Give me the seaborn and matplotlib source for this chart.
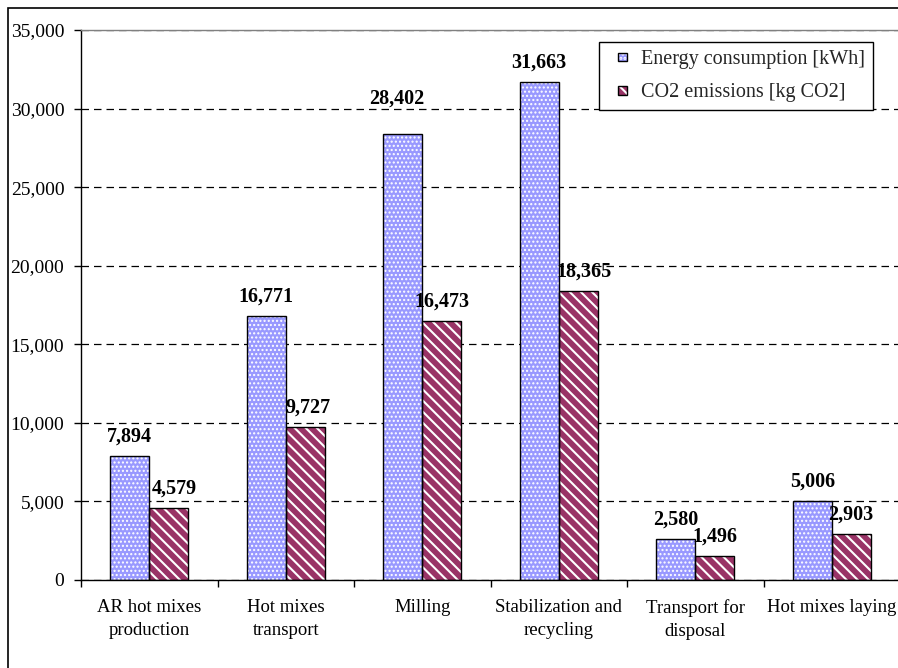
import numpy as np
import pandas as pd
import matplotlib
matplotlib.use("Agg")
import matplotlib.pyplot as plt
from matplotlib.patches import Rectangle, Patch
from matplotlib.legend_handler import HandlerBase
from matplotlib.ticker import FuncFormatter, MultipleLocator, FixedLocator
import seaborn as sns

# Data
categories = ["AR hot mixes\nproduction", "Hot mixes\ntransport", "Milling",
              "Stabilization and\nrecycling", "Transport for\ndisposal",
              "Hot mixes laying"]
energy_kwh = [7894, 16771, 28402, 31663, 2580, 5006]
co2_kg = [4579, 9727, 16473, 18365, 1496, 2903]
series_names = ["Energy consumption [kWh]", "CO2 emissions [kg CO2]"]

sns.set_theme(style="white")
plt.rcParams["font.family"] = ["Liberation Serif", "DejaVu Serif"]
plt.rcParams["hatch.linewidth"] = 1.5

df = pd.DataFrame({
    "category": categories * 2,
    "value": energy_kwh + co2_kg,
    "series": [series_names[0]] * len(energy_kwh) + [series_names[1]] * len(co2_kg),
})

W, H = 898, 668
fig = plt.figure(figsize=(W / 100, H / 100), dpi=100)
ax = fig.add_axes([81 / W, (H - 580) / H, (900 - 81) / W, 550 / H])

colors = ["#9999FF", "#993366"]
hatches = ["....", "\\\\\\"]
hatch_lw = [1.0, 1.5]

sns.barplot(data=df, x="category", y="value", hue="series", order=categories,
            hue_order=series_names, palette=colors, saturation=1, width=0.57,
            edgecolor="white", linewidth=0, legend=False, ax=ax)

# hand-nudged value labels: (series, category) -> (dx, dy) in points
label_nudge = {(0, 2): (-4, 11), (1, 0): (4, 0), (1, 1): (2, 0), (1, 3): (4, 0)}

# white pattern inside each bar, black outline drawn on top
for si, (cont, hatch, hlw) in enumerate(zip(ax.containers, hatches, hatch_lw)):
    for ci, (bar, val) in enumerate(zip(cont, cont.datavalues)):
        bar.set_hatch(hatch)
        bar.set_edgecolor("white")
        if hasattr(bar, "set_hatch_linewidth"):
            bar.set_hatch_linewidth(hlw)
        ax.add_patch(Rectangle(bar.get_xy(), bar.get_width(), bar.get_height(),
                               fill=False, edgecolor="black", linewidth=1.0,
                               zorder=bar.get_zorder() + 0.1))
        dx, dy = label_nudge.get((si, ci), (0, 0))
        ax.annotate(f"{val:,.0f}", xy=(bar.get_x() + bar.get_width() / 2, val),
                    xytext=(dx, 7 + dy), textcoords="offset points",
                    ha="center", va="bottom", fontsize=14.5, fontweight="bold",
                    color="black")

ax.set_xlim(-0.5, len(categories) - 0.5)
ax.set_ylim(0, 35000)
ax.set_xlabel("")
ax.set_ylabel("")
ax.yaxis.set_major_locator(MultipleLocator(5000))
ax.yaxis.set_major_formatter(FuncFormatter(lambda v, p: f"{v:,.0f}"))

ax.tick_params(axis="y", which="major", direction="out", length=5, width=1,
               color="black", pad=7, labelsize=14, left=True, labelcolor="black")
ax.tick_params(axis="x", which="major", length=0, pad=14, labelsize=13.5,
               labelcolor="black")
ax.xaxis.set_minor_locator(FixedLocator(np.arange(-0.5, len(categories), 1.0)))
ax.tick_params(axis="x", which="minor", direction="out", length=5, width=1,
               color="black", bottom=True)
for lbl in ax.get_xticklabels():
    lbl.set_linespacing(1.45)

# spines
for side in ["left", "bottom"]:
    ax.spines[side].set_color("black")
    ax.spines[side].set_linewidth(1.0)
for side in ["top", "right"]:
    ax.spines[side].set_color("#808080")
    ax.spines[side].set_linewidth(1.0)

# dashed horizontal gridlines
ax.set_axisbelow(True)
ax.yaxis.grid(True, color="black", linestyle=(0, (6, 4)), linewidth=0.9)
gl = ax.yaxis.get_gridlines()
gl[0].set_visible(False)
gl[-1].set_visible(False)


class SquareKey(HandlerBase):
    """Small hatched square with a black outline, right-aligned in the key box."""

    def create_artists(self, legend, orig_handle, xdescent, ydescent,
                       width, height, fontsize, trans):
        s = 0.42 * fontsize
        x0 = width - s - xdescent
        y0 = (height - s) / 2 - ydescent
        fill = Rectangle((x0, y0), s, s, facecolor=orig_handle.get_facecolor(),
                         edgecolor="white", hatch=orig_handle.get_hatch(),
                         linewidth=0, transform=trans)
        edge = Rectangle((x0, y0), s, s, fill=False, edgecolor="black",
                         linewidth=1.0, transform=trans)
        return [fill, edge]


handles = [Patch(facecolor=c, hatch=h) for c, h in zip(colors, hatches)]
leg = ax.legend(handles, series_names, loc="upper right",
                handler_map={Patch: SquareKey()},
                bbox_to_anchor=((873 - 81) / (900 - 81), (580 - 42) / 550),
                borderaxespad=0, frameon=True, fancybox=False, edgecolor="black",
                framealpha=1, fontsize=14.5, handlelength=1.0, handleheight=0.7,
                handletextpad=0.7, labelspacing=0.7, borderpad=0.4)
leg.get_frame().set_linewidth(1.0)

# outer frame of the figure
fig.add_artist(Rectangle((8 / W, -0.5), 1.5, (H - 8) / H + 0.5,
                         transform=fig.transFigure, fill=False,
                         edgecolor="black", linewidth=1.2))

fig.savefig("out.png", dpi=100)
